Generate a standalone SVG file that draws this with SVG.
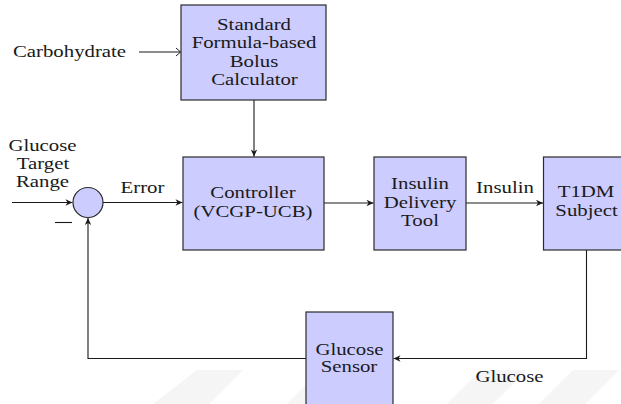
<svg xmlns="http://www.w3.org/2000/svg" width="621" height="404" viewBox="0 0 621 404">
<style>
  .box { fill: #ccccff; stroke: #2a2a2a; stroke-width: 1.2; }
  .ln { fill: none; stroke: #1a1a1a; stroke-width: 1.1; }
  .arr { marker-end: url(#stealth); }
  .t { font-family: "Liberation Serif", "Times New Roman", serif; font-size: 16px; fill: #1a1a1a; text-anchor: middle; }
  .wm { fill: #f5f5f5; stroke: none; }
</style>
<defs>
  <marker id="stealth" viewBox="-8 -4 9 8" refX="0" refY="0" markerWidth="9" markerHeight="8" markerUnits="userSpaceOnUse" orient="auto">
    <path d="M0,0 L-7,-3.2 L-5,0 L-7,3.2 Z" fill="#1a1a1a"/>
  </marker>
  <marker id="open" viewBox="-6 -5 7 10" refX="0" refY="0" markerWidth="7" markerHeight="10" markerUnits="userSpaceOnUse" orient="auto">
    <path d="M-4.5,-4 Q-1,-1 0,0 Q-1,1 -4.5,4" fill="none" stroke="#1a1a1a" stroke-width="1"/>
  </marker>
</defs>
<rect width="621" height="404" fill="#ffffff"/>
<g id="watermark">
  <polygon class="wm" points="197,370 243,370 209,404 153,404"/>
  <polygon class="wm" points="321,370 367,370 333,404 287,404"/>
  <polygon class="wm" points="481,370 527,370 493,404 447,404"/>
  <polygon class="wm" points="573,370 619,370 585,404 539,404"/>
</g>
<g id="connectors">
  <path class="ln" d="M139,52 H180.5" marker-end="url(#open)"/>
  <path class="ln arr" d="M254,100 V156.5"/>
  <path class="ln arr" d="M12,202.5 H72.5"/>
  <path class="ln arr" d="M103,202.5 H182.5"/>
  <path class="ln arr" d="M324,203 H373.5"/>
  <path class="ln arr" d="M466,203 H543"/>
  <path class="ln arr" d="M586.5,250 V358.5 H393.5"/>
  <path class="ln arr" d="M306,358.5 H88 V218"/>
  <path class="ln" d="M55,222.5 H72" stroke-width="1.3"/>
</g>
<g id="labels">
  <text class="t" transform="translate(69.5,57) scale(1.3,1)">Carbohydrate</text>
  <text class="t" transform="translate(42.5,151) scale(1.3,1)">Glucose</text>
  <text class="t" transform="translate(43,169) scale(1.3,1)">Target</text>
  <text class="t" transform="translate(42.5,187) scale(1.3,1)">Range</text>
  <text class="t" transform="translate(142.5,193) scale(1.3,1)">Error</text>
  <text class="t" transform="translate(505,193) scale(1.3,1)">Insulin</text>
  <text class="t" transform="translate(509.5,381.5) scale(1.3,1)">Glucose</text>
</g>
<g id="bolus">
  <rect class="box" x="181" y="5" width="145" height="95"/>
  <text class="t" transform="translate(254,29.5) scale(1.3,1)">Standard</text>
  <text class="t" transform="translate(254,48) scale(1.3,1)">Formula-based</text>
  <text class="t" transform="translate(254,66.5) scale(1.3,1)">Bolus</text>
  <text class="t" transform="translate(254.5,85) scale(1.3,1)">Calculator</text>
</g>
<g id="sum">
  <circle class="box" cx="88" cy="202.5" r="15"/>
</g>
<g id="controller">
  <rect class="box" x="183" y="157" width="141" height="93"/>
  <text class="t" transform="translate(253,197.5) scale(1.3,1)">Controller</text>
  <text class="t" transform="translate(253,216.5) scale(1.3,1)">(VCGP-UCB)</text>
</g>
<g id="insulin">
  <rect class="box" x="374" y="157" width="92" height="93"/>
  <text class="t" transform="translate(420,189) scale(1.3,1)">Insulin</text>
  <text class="t" transform="translate(420,207.5) scale(1.3,1)">Delivery</text>
  <text class="t" transform="translate(420,226) scale(1.3,1)">Tool</text>
</g>
<g id="t1dm">
  <rect class="box" x="543.5" y="157" width="86" height="93"/>
  <text class="t" transform="translate(586,197) scale(1.3,1)">T1DM</text>
  <text class="t" transform="translate(586.5,215.5) scale(1.3,1)">Subject</text>
</g>
<g id="sensor">
  <rect class="box" x="306" y="312" width="87" height="93"/>
  <text class="t" transform="translate(349.5,355) scale(1.3,1)">Glucose</text>
  <text class="t" transform="translate(349,372) scale(1.3,1)">Sensor</text>
</g>
</svg>
